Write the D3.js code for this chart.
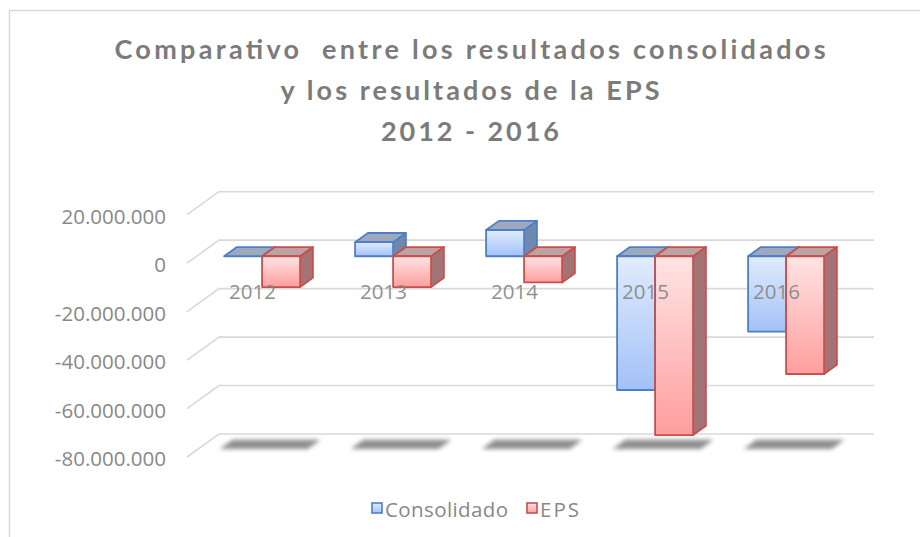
<!DOCTYPE html>
<html>
<head>
<meta charset="utf-8">
<script src="https://cdn.jsdelivr.net/npm/d3@7"></script>
<style>
  body { margin: 0; background: #fff; }
  text { font-family: "Open Sans", sans-serif; }
</style>
</head>
<body>
<div id="chart"></div>
<script>
var years = ['2012', '2013', '2014', '2015', '2016'];
var seriesNames = ['Consolidado', 'EPS'];
var consolidado = [0, 5800000, 10800000, -55200000, -31100000];
var eps = [-12700000, -12700000, -10800000, -73800000, -48600000];
var yTicks = [20000000, 0, -20000000, -40000000, -60000000, -80000000];
var titleLines = ['Comparativo  entre los resultados consolidados', 'y los resultados de la EPS', '2012 - 2016'];

var width = 920, height = 537;
var svg = d3.select('#chart').append('svg')
  .attr('width', width)
  .attr('height', height);

var defs = svg.append('defs');
function grad(id, c1, c2) {
  var g = defs.append('linearGradient').attr('id', id)
    .attr('x1', 0).attr('y1', 0).attr('x2', 0).attr('y2', 1);
  g.append('stop').attr('offset', '0%').attr('stop-color', c1);
  g.append('stop').attr('offset', '100%').attr('stop-color', c2);
}
grad('gBlue', '#e1ecfd', '#a3c1f7');
grad('gRed', '#ffe4e4', '#ff9e9e');
defs.append('filter').attr('id', 'blur')
  .attr('x', '-20%').attr('y', '-50%').attr('width', '140%').attr('height', '200%')
  .append('feGaussianBlur').attr('stdDeviation', 2.2);

// outer border
svg.append('rect')
  .attr('x', 9.5).attr('y', 10.5)
  .attr('width', 940).attr('height', 560)
  .attr('fill', 'none').attr('stroke', '#d9d9d9').attr('stroke-width', 1.5);

// title
svg.append('g').selectAll('text')
  .data(titleLines).enter()
  .append('text')
  .attr('x', 470)
  .attr('y', function(d, i) { return 59 + i * 41; })
  .attr('text-anchor', 'middle')
  .attr('fill', '#7b7b7b')
  .style('font-family', 'Lato, sans-serif')
  .style('font-size', '27px')
  .style('font-weight', 'bold')
  .style('white-space', 'pre')
  .attr('textLength', function(d, i) { return [711, 379, 178][i]; })
  .attr('lengthAdjust', 'spacing')
  .text(function(d) { return d; });

// pseudo 3d: scales are for the front plane (t = 0), depth offset goes up-right
var DX = 32, DY = -23;
function px(x, t) { return x + DX * t; }
function py(y, t) { return y + DY * t; }

var x = d3.scaleBand()
  .domain(years)
  .range([187, 842])
  .paddingInner(0.42)
  .paddingOuter(0.21);
var xs = d3.scaleBand()
  .domain(seriesNames)
  .range([0, x.bandwidth()]);
var y = d3.scaleLinear()
  .domain([-80000000, 20000000])
  .range([457, 214.7]);

var locale = d3.formatLocale({ decimal: ',', thousands: '.', grouping: [3], currency: ['', ''], minus: '-' });
var fmt = locale.format(',');

// back wall gridlines + left floor-side diagonals
var grid = svg.append('g');
grid.selectAll('.gl')
  .data(yTicks).enter()
  .append('path')
  .attr('d', function(v) {
    var yy = y(v);
    return 'M' + px(187, 0) + ',' + yy + 'L' + px(187, 1) + ',' + py(yy, 1) + 'L' + px(842, 1) + ',' + py(yy, 1);
  })
  .attr('fill', 'none')
  .attr('stroke', '#d9d9d9')
  .attr('stroke-width', 1.6);

// floor shadows
var T0 = 0.3, T1 = 0.7;
svg.append('g').selectAll('path')
  .data(years).enter()
  .append('path')
  .attr('d', function(yr) {
    var x0 = x(yr) - 6, x1 = x(yr) + x.bandwidth() + 6, yy = y(-80000000);
    return 'M' + px(x0, T0 + 0.05) + ',' + py(yy, T0 + 0.05) +
      'L' + px(x1, T0 + 0.05) + ',' + py(yy, T0 + 0.05) +
      'L' + px(x1, T1 + 0.05) + ',' + py(yy, T1 + 0.05) +
      'L' + px(x0, T1 + 0.05) + ',' + py(yy, T1 + 0.05) + 'Z';
  })
  .attr('fill', '#7a7a7a')
  .attr('opacity', 0.85)
  .attr('filter', 'url(#blur)');

// y axis labels
var yAxis = svg.append('g')
  .attr('transform', 'translate(166,0)')
  .call(d3.axisLeft(y).tickValues(yTicks).tickFormat(fmt).tickSize(0).tickPadding(0));
yAxis.select('.domain').remove();
yAxis.selectAll('text')
  .attr('dy', null)
  .attr('y', 8.6)
  .attr('fill', '#888888')
  .style('font-size', '20.5px')
  .style('font-family', '"Open Sans", sans-serif');

// bars
var styles = {
  Consolidado: { front: 'url(#gBlue)', top: '#9ea9c0', side: '#6f88ae', stroke: '#4d7fc4' },
  EPS: { front: 'url(#gRed)', top: '#bba2a3', side: '#a27476', stroke: '#c94f4c' }
};
var barData = [];
years.forEach(function(yr, i) {
  barData.push({ year: yr, s: 'Consolidado', v: consolidado[i] });
  barData.push({ year: yr, s: 'EPS', v: eps[i] });
});

function poly(pts) {
  return 'M' + pts.map(function(p) { return p[0] + ',' + p[1]; }).join('L') + 'Z';
}

var bars = svg.append('g').selectAll('g')
  .data(barData).enter()
  .append('g')
  .each(function(d) {
    var g = d3.select(this);
    var st = styles[d.s];
    var xl = x(d.year) + xs(d.s), xr = xl + xs.bandwidth();
    var yt = y(Math.max(d.v, 0)), yb = y(Math.min(d.v, 0));
    var f = function(xx, yy, t) { return [px(xx, t), py(yy, t)]; };
    // side face
    g.append('path')
      .attr('d', poly([f(xr, yt, T0), f(xr, yt, T1), f(xr, yb, T1), f(xr, yb, T0)]))
      .attr('fill', st.side).attr('stroke', st.stroke).attr('stroke-width', 1.8)
      .attr('stroke-linejoin', 'round');
    // top face
    g.append('path')
      .attr('d', poly([f(xl, yt, T0), f(xr, yt, T0), f(xr, yt, T1), f(xl, yt, T1)]))
      .attr('fill', st.top).attr('stroke', st.stroke).attr('stroke-width', 1.8)
      .attr('stroke-linejoin', 'round');
    // front face
    if (yb - yt > 0.5) {
      g.append('path')
        .attr('d', poly([f(xl, yt, T0), f(xr, yt, T0), f(xr, yb, T0), f(xl, yb, T0)]))
        .attr('fill', st.front).attr('stroke', st.stroke).attr('stroke-width', 1.8)
        .attr('stroke-linejoin', 'round');
    }
  });

// category labels
var xAxis = svg.append('g')
  .attr('transform', 'translate(0,' + (y(0) + 36) + ')')
  .call(d3.axisBottom(x).tickSize(0).tickPadding(0));
xAxis.select('.domain').remove();
xAxis.selectAll('text')
  .attr('dy', null)
  .attr('y', 0)
  .attr('fill', '#888888')
  .attr('fill-opacity', 0.95)
  .style('font-size', '20.5px')
  .style('font-family', '"Open Sans", sans-serif');

// legend
var legX = [372, 527];
var leg = svg.append('g').selectAll('g')
  .data(seriesNames).enter()
  .append('g')
  .attr('transform', function(d, i) { return 'translate(' + legX[i] + ',503)'; });
leg.append('rect')
  .attr('width', 10).attr('height', 10)
  .attr('fill', function(d) { return styles[d].front; })
  .attr('stroke', function(d) { return styles[d].stroke; })
  .attr('stroke-width', 1.6);
leg.append('text')
  .attr('x', 13).attr('y', 13.5)
  .attr('fill', '#888888')
  .style('font-size', '20.5px')
  .attr('textLength', function(d) { return d === 'EPS' ? 39 : 123; })
  .attr('lengthAdjust', 'spacing')
  .text(function(d) { return d; });
</script>
</body>
</html>
